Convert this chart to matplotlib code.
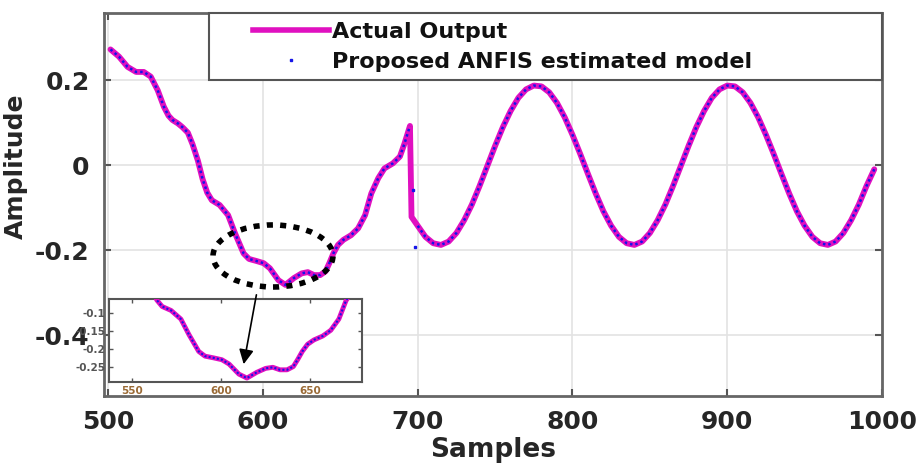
import numpy as np
import matplotlib
matplotlib.use('Agg')
import matplotlib.pyplot as plt
from matplotlib.patches import Ellipse
from matplotlib.lines import Line2D
from matplotlib.legend_handler import HandlerLine2D

plt.rcParams['font.family'] = ['DejaVu Sans']
plt.rcParams['font.weight'] = 'bold'
plt.rcParams['axes.unicode_minus'] = False

# values
samples = [501.5, 507, 512.5, 518, 523, 527.5, 532, 536, 539, 541.5,
           545, 548, 551.5, 554.5, 558, 561, 564, 567, 572, 577.5,
           582, 587.5, 591, 596, 600.5, 604.5, 610, 614.5, 620, 625,
           629, 633, 637, 640.5, 643, 645.5, 648.5, 652, 657, 661.5,
           666, 670, 674.5, 678.5, 684, 688.5, 691.5, 695,
           696, 700, 705, 710, 715, 720, 725, 730, 735, 740,
           745, 750, 755, 760, 765, 770, 775, 780, 785, 790,
           795, 800, 805, 810, 815, 820, 825, 830, 835, 840,
           845, 850, 855, 860, 865, 870, 875, 880, 885, 890,
           895, 900, 905, 910, 915, 920, 925, 930, 935, 940,
           945, 950, 955, 960, 965, 970, 975, 980, 985, 990,
           995]
actual = [0.272, 0.255, 0.231, 0.219, 0.219, 0.208, 0.176, 0.137, 0.116, 0.106,
          0.098, 0.089, 0.076, 0.049, 0.010, -0.033, -0.065, -0.083, -0.094, -0.118,
          -0.161, -0.208, -0.221, -0.226, -0.231, -0.243, -0.271, -0.282, -0.266, -0.255,
          -0.252, -0.259, -0.259, -0.250, -0.230, -0.208, -0.188, -0.176, -0.165, -0.149,
          -0.118, -0.067, -0.031, -0.008, 0.004, 0.020, 0.051, 0.092,
          -0.122, -0.143, -0.169, -0.184, -0.188, -0.180, -0.160, -0.130, -0.093, -0.049,
          -0.002, 0.045, 0.089, 0.127, 0.158, 0.178, 0.187, 0.185, 0.171, 0.146,
          0.112, 0.071, 0.026, -0.021, -0.067, -0.109, -0.143, -0.169, -0.184, -0.188,
          -0.180, -0.160, -0.130, -0.093, -0.049, -0.002, 0.045, 0.089, 0.127, 0.158,
          0.178, 0.187, 0.185, 0.171, 0.146, 0.112, 0.071, 0.026, -0.021, -0.067,
          -0.109, -0.143, -0.169, -0.184, -0.188, -0.180, -0.160, -0.130, -0.093, -0.049,
          -0.010]
# the ANFIS estimate sits on the actual output except around the jump
outlier_samples = [697, 698]
outlier_values = [-0.059, -0.192]
JUMP_BEFORE, JUMP_AFTER = 695, 700

MAGENTA = '#E010C0'
BLUE = '#1515E8'
TXT = '#262626'

x = np.array(samples)
y = np.array(actual)
pre = x <= JUMP_BEFORE
post = x >= JUMP_AFTER

fig = plt.figure(figsize=(9.21, 4.67), dpi=100)
ax = fig.add_axes([0.1124, 0.152, 0.8453, 0.8191])

ax.plot(x, y, color=MAGENTA, linewidth=4.2, solid_capstyle='round',
        solid_joinstyle='round', zorder=3)
for m in (pre, post):
    ax.plot(x[m], y[m], color=BLUE, linewidth=1.8, linestyle=(0, (1, 1.2)),
            dash_joinstyle='round', zorder=4)
ax.plot(outlier_samples, outlier_values, 's', color=BLUE, markersize=2, zorder=4)

ax.set_xlim(497, 999.5)
ax.set_ylim(-0.5435, 0.3565)
ax.set_xticks([500, 600, 700, 800, 900, 1000])
ax.set_yticks([-0.4, -0.2, 0, 0.2])
ax.set_yticklabels(['-0.4', '-0.2', '0', '0.2'])
ax.tick_params(direction='in', length=5, width=1.5, top=True, right=True,
               labelsize=18, colors='#555555', labelcolor=TXT, pad=10)
ax.grid(True, color='#e3e3e3', linewidth=1.2)
ax.set_axisbelow(True)
for s in ax.spines.values():
    s.set_color('#666666')
    s.set_linewidth(2)

ax.set_xlabel('Samples', fontsize=19, fontweight='bold', color=TXT, labelpad=2)
ax.set_ylabel('Amplitude', fontsize=18, fontweight='bold', color=TXT)
ax.yaxis.set_label_coords(-0.097, 0.6)

# dotted ring round the zoomed part
ax.add_patch(Ellipse((606.5, -0.214), 77.5, 0.146, fill=False, edgecolor='k',
                     linewidth=4, linestyle=(0, (1.1, 1.3)), zorder=6))

handles = [Line2D([], [], color=MAGENTA, linewidth=4),
           Line2D([], [], linestyle='none', marker='s', color=BLUE, markersize=2)]
leg = ax.legend(handles, ['Actual Output', 'Proposed ANFIS estimated model'],
                loc='upper left', bbox_to_anchor=(0.136, 0, 0.864, 1.0), mode='expand',
                borderaxespad=0, fontsize=16, handlelength=5.0, handletextpad=0.15,
                labelspacing=0.45, borderpad=0.38, fancybox=False, framealpha=1,
                edgecolor='#555555',
                handler_map={h: HandlerLine2D(xpad=1.6) for h in handles})
leg.get_frame().set_linewidth(1.5)
for t in leg.get_texts():
    t.set_color('#111111')

# zoomed inset
axins = fig.add_axes([0.1187, 0.1827, 0.2744, 0.1764])
axins.plot(x, y, color=MAGENTA, linewidth=3.5, solid_joinstyle='round', zorder=3)
axins.plot(x[pre], y[pre], color=BLUE, linewidth=1.5, linestyle=(0, (1, 1)), zorder=4)
axins.set_xlim(537.4, 679)
axins.set_ylim(-0.292, -0.063)
axins.set_xticks([550, 600, 650])
axins.set_yticks([-0.25, -0.2, -0.15, -0.1])
axins.set_yticklabels(['-0.25', '-0.2', '-0.15', '-0.1'])
axins.tick_params(direction='in', length=3, width=1, top=True, right=True,
                  labelsize=7.5, colors='#555555', pad=3)
for t in axins.get_xticklabels():
    t.set_color('#9a6a35')
for s in axins.spines.values():
    s.set_color('#555555')
    s.set_linewidth(1.5)

axins.annotate('', xy=(612.4, -0.251), xycoords='data',
               xytext=(596.1, -0.299), textcoords=ax.transData,
               arrowprops=dict(arrowstyle='-|>', color='k', lw=1.2, mutation_scale=22),
               annotation_clip=False)

fig.savefig('out.png', dpi=100)
